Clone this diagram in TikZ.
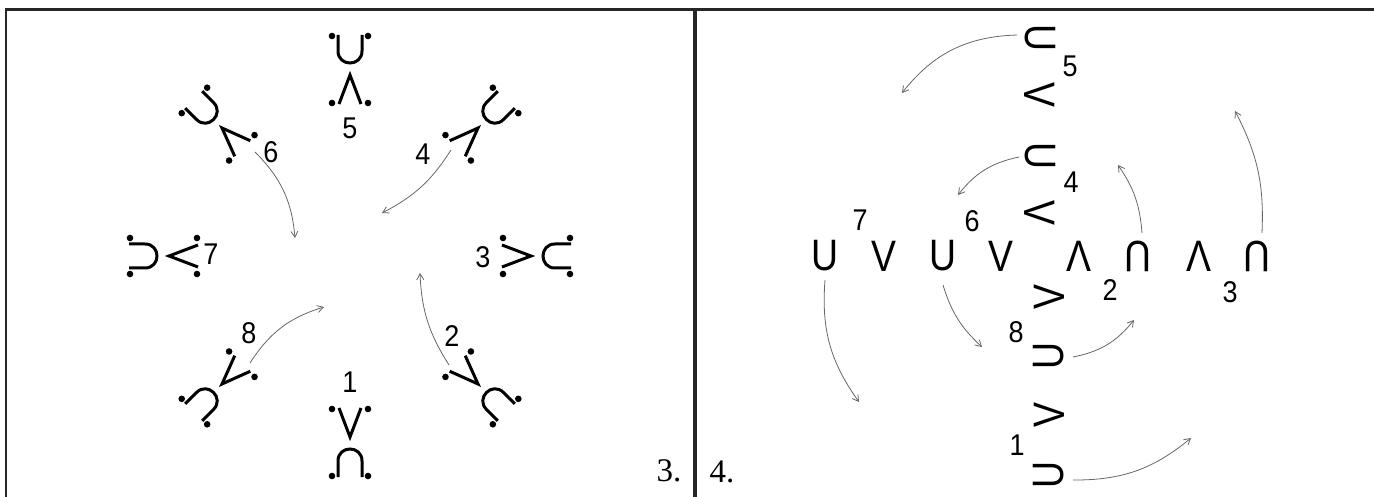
\documentclass[tikz,border=0pt]{standalone}
\usepackage{fontspec}
\setmainfont{Liberation Sans}
\newfontfamily\glyphfont[FakeStretch=0.85]{Liberation Sans}
\newfontfamily\numfont[FakeStretch=0.9]{Liberation Sans}
\newfontfamily\serifnum{Liberation Serif}
\usetikzlibrary{arrows.meta}
\tikzset{
  symline/.style={line width=3pt, line join=miter},
  cupdot/.pic={
    \draw[symline] (-12,-14) -- (-12,2) .. controls (-12,18) and (12,18) .. (12,2) -- (12,-14);
    \fill (-18,-13) circle[radius=3.3];
    \fill (18,-13) circle[radius=3.3];
  },
  wedgedot/.pic={
    \draw[symline] (-11,14) -- (0,-15) -- (11,14);
    \fill (-18,13) circle[radius=3.3];
    \fill (18,13) circle[radius=3.3];
  },
  lab/.style={inner sep=0pt, font=\numfont\fontsize{30}{34}\selectfont},
  gl/.style={inner sep=0pt, font=\glyphfont\fontsize{44}{50}\selectfont},
  plab/.style={inner sep=0pt, font=\serifnum\fontsize{33}{36}\selectfont},
  arr/.style={draw=black!60, line width=0.8pt, -{Straight Barb[length=6pt,width=7pt]}},
  frame/.style={line width=2.5pt, draw=black!85},
}
\begin{document}
\begin{tikzpicture}[x=1pt,y=-1pt]
\useasboundingbox (0,0) rectangle (1374,497);
% frame
\draw[frame] (6,497) -- (6,9.5) -- (1374,9.5);
\draw[frame, line width=3.5pt] (695,9.5) -- (695,497);
% ---------- left panel ----------
\foreach \ang in {0,45,90,135,180,225,270,315}{
  \begin{scope}[shift={(350,256)}, rotate=\ang]
    \pic[transform shape] at (0,-207) {cupdot};
    \pic[transform shape] at (0,-166) {wedgedot};
  \end{scope}
}
\node[lab] (l5) at (350,128) {5};
\node[lab] (l4) at (423,154) {4};
\node[lab] (l3) at (483,257) {3};
\node[lab] (l2) at (452,336) {2};
\node[lab] (l1) at (350,382) {1};
\node[lab] (l8) at (249,333) {8};
\node[lab] (l7) at (211,254) {7};
\node[lab] (l6) at (271,152) {6};
\coordinate (a6s) at (255,152); \coordinate (a6e) at (295,238);
\coordinate (a4s) at (451,150); \coordinate (a4e) at (382,213);
\coordinate (a8s) at (250,363); \coordinate (a8e) at (324,307);
\coordinate (a2s) at (449,365); \coordinate (a2e) at (420,273);
\draw[arr] (a6s) to[bend left=20] (a6e);
\draw[arr] (a4s) to[bend left=15] (a4e);
\draw[arr] (a8s) to[bend left=20] (a8e);
\draw[arr] (a2s) to[bend left=15] (a2e);
\node[plab] (p3) at (669,471) {3.};
% ---------- right panel ----------
\node[plab] (p4) at (722,472) {4.};
\node[gl] (r7u) at (825,256) {U};
\node[gl] (r7v) at (884,256) {V};
\node[gl] (r6u) at (943,256) {U};
\node[gl] (r6v) at (1001,256) {V};
\node[gl] (r2a) at (1079,256) {Λ};
\node[gl, rotate=180] (r2n) at (1138,256) {U};
\node[gl] (r3a) at (1199,256) {Λ};
\node[gl, rotate=180] (r3n) at (1257,256) {U};
\node[gl, rotate=-90] (c5u) at (1040,38) {U};
\node[gl, rotate=-90] (c5v) at (1040,95) {V};
\node[gl, rotate=-90] (c4u) at (1040,156) {U};
\node[gl, rotate=-90] (c4v) at (1040,213) {V};
\node[gl, rotate=90] (c8v) at (1049,297) {V};
\node[gl, rotate=90] (c8u) at (1049,356) {U};
\node[gl, rotate=90] (c1v) at (1049,415) {V};
\node[gl, rotate=90] (c1u) at (1049,475) {U};
\node[lab] (m5) at (1070,66) {5};
\node[lab] (m4) at (1071,182) {4};
\node[lab] (m7) at (860,220) {7};
\node[lab] (m6) at (972,221) {6};
\node[lab] (m2) at (1110,290) {2};
\node[lab] (m3) at (1230,292) {3};
\node[lab] (m8) at (1016,332) {8};
\node[lab] (m1) at (1017,445) {1};
\coordinate (b5s) at (1017,35);  \coordinate (b5e) at (902,93);
\coordinate (b4s) at (1019,157); \coordinate (b4e) at (958,195);
\coordinate (b2s) at (1142,233); \coordinate (b2e) at (1118,165);
\coordinate (b3s) at (1262,233); \coordinate (b3e) at (1235,111);
\coordinate (b7s) at (825,280);  \coordinate (b7e) at (859,402);
\coordinate (b6s) at (943,285);  \coordinate (b6e) at (982,347);
\coordinate (b8s) at (1073,357); \coordinate (b8e) at (1134,320);
\coordinate (b1s) at (1073,480); \coordinate (b1e) at (1191,438);
\draw[arr] (b5s) to[bend right=25] (b5e);
\draw[arr] (b4s) to[bend right=20] (b4e);
\draw[arr] (b2s) to[bend right=15] (b2e);
\draw[arr] (b3s) to[bend right=15] (b3e);
\draw[arr] (b7s) to[bend right=20] (b7e);
\draw[arr] (b6s) to[bend right=15] (b6e);
\draw[arr] (b8s) to[bend right=20] (b8e);
\draw[arr] (b1s) to[bend right=20] (b1e);
\end{tikzpicture}
\end{document}
